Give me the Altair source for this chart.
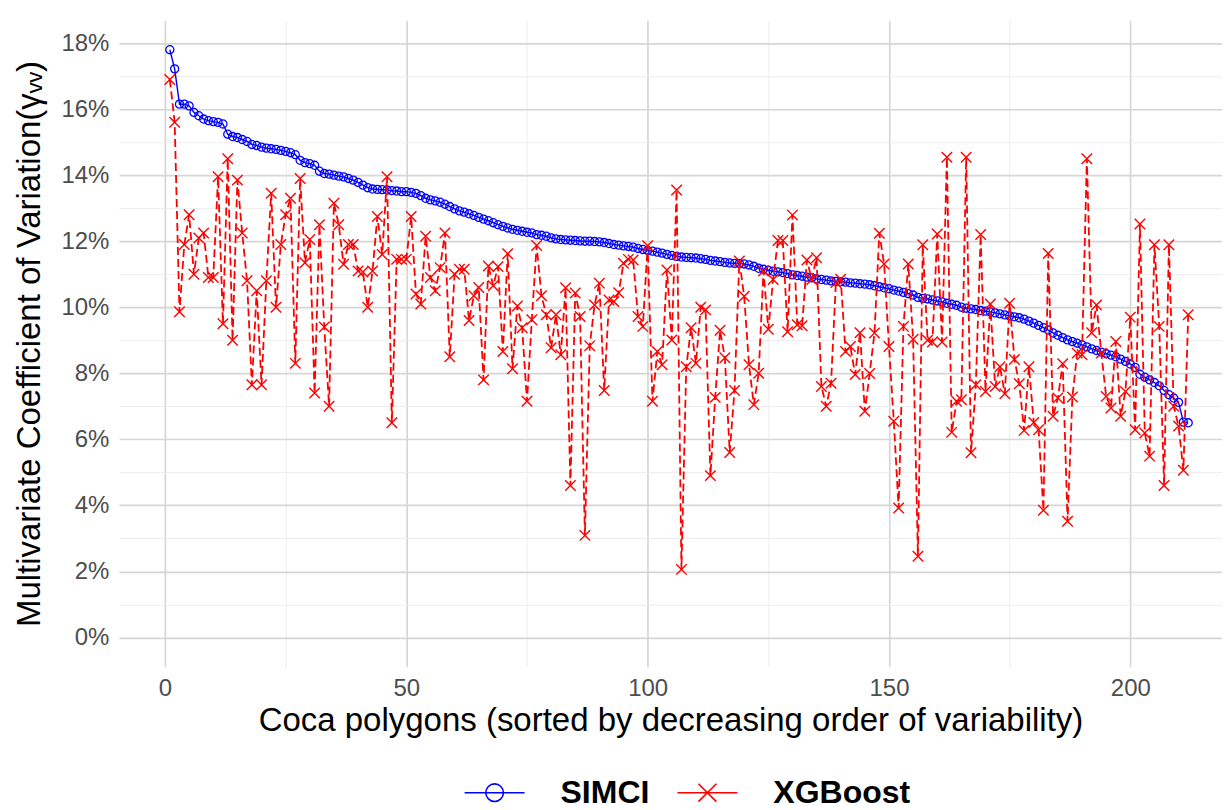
import altair as alt
import pandas as pd

idx = list(range(1, 213))

simci = [
    17.8, 17.22, 16.15, 16.15, 16.1, 15.9, 15.8, 15.7, 15.65, 15.62,
    15.6, 15.55, 15.24, 15.17, 15.14, 15.08, 15.02, 14.93, 14.9, 14.85,
    14.82, 14.8, 14.78, 14.75, 14.72, 14.68, 14.62, 14.45, 14.38, 14.35,
    14.3, 14.12, 14.05, 14.03, 14.0, 13.97, 13.95, 13.9, 13.85, 13.78,
    13.7, 13.62, 13.58, 13.57, 13.56, 13.55, 13.53, 13.52, 13.5, 13.5,
    13.48, 13.45, 13.38, 13.3, 13.25, 13.22, 13.18, 13.12, 13.05, 12.98,
    12.92, 12.88, 12.83, 12.78, 12.72, 12.67, 12.62, 12.56, 12.5, 12.45,
    12.4, 12.36, 12.33, 12.3, 12.27, 12.25, 12.2, 12.18, 12.15, 12.1,
    12.07, 12.05, 12.04, 12.03, 12.02, 12.01, 12.0, 12.0, 11.99, 11.98,
    11.96, 11.93, 11.9, 11.88, 11.86, 11.84, 11.82, 11.78, 11.75, 11.72,
    11.7, 11.67, 11.64, 11.6, 11.57, 11.54, 11.52, 11.51, 11.5, 11.49,
    11.47, 11.45, 11.42, 11.4, 11.38, 11.36, 11.34, 11.33, 11.33, 11.31,
    11.28, 11.24, 11.18, 11.15, 11.12, 11.09, 11.07, 11.05, 11.02, 10.98,
    10.96, 10.94, 10.91, 10.89, 10.86, 10.84, 10.82, 10.8, 10.78, 10.77,
    10.76, 10.74, 10.73, 10.71, 10.7, 10.68, 10.65, 10.62, 10.59, 10.56,
    10.52, 10.49, 10.45, 10.41, 10.37, 10.3, 10.27, 10.25, 10.22, 10.19,
    10.16, 10.12, 10.09, 10.06, 10.0, 9.97, 9.95, 9.93, 9.9, 9.88,
    9.86, 9.83, 9.8, 9.77, 9.74, 9.71, 9.68, 9.64, 9.58, 9.52,
    9.45, 9.38, 9.31, 9.22, 9.15, 9.08, 9.01, 8.96, 8.91, 8.86,
    8.8, 8.74, 8.69, 8.64, 8.59, 8.55, 8.5, 8.43, 8.36, 8.28,
    8.18, 7.97, 7.88, 7.8, 7.72, 7.62, 7.48, 7.35, 7.25, 7.12,
    6.52, 6.5,
]

xgboost = [
    16.9, 15.6, 9.86, 11.9, 12.8, 11.0, 12.1, 12.25, 10.9, 10.9,
    13.95, 9.5, 14.5, 9.0, 13.85, 12.25, 10.8, 7.65, 10.5, 7.65,
    10.8, 13.45, 10.0, 11.9, 12.8, 13.3, 8.3, 13.9, 11.35, 12.05,
    7.4, 12.5, 9.4, 7.0, 13.15, 12.5, 11.3, 11.9, 11.9, 11.1,
    11.07, 10.0, 11.1, 12.75, 11.6, 13.95, 6.5, 11.45, 11.45, 11.45,
    12.75, 10.4, 10.1, 12.15, 10.9, 10.5, 11.2, 12.25, 8.5, 11.0,
    11.15, 11.15, 9.6, 10.35, 10.6, 7.8, 11.25, 10.65, 11.23, 8.66,
    11.62, 8.14, 10.04, 9.38, 7.15, 9.62, 11.87, 10.35, 9.77, 8.77,
    9.77, 8.56, 10.59, 4.6, 10.43, 9.72, 3.09, 8.83, 10.07, 10.73,
    7.48, 10.22, 10.17, 10.44, 11.33, 11.45, 11.43, 9.72, 9.42, 11.86,
    7.15, 8.66, 8.26, 11.13, 9.01, 13.55, 2.06, 8.2, 9.38, 8.3,
    10.0, 9.92, 4.9, 7.27, 9.3, 8.47, 5.6, 7.48, 11.4, 10.33,
    8.26, 7.05, 8.0, 11.1, 9.33, 10.84, 12.02, 12.02, 9.26, 12.79,
    9.47, 9.44, 11.43, 10.84, 11.5, 7.6, 7.0, 7.7, 10.75, 10.85,
    8.66, 8.81, 7.96, 9.23, 6.85, 7.99, 9.22, 12.24, 11.31, 8.81,
    6.55, 3.92, 9.42, 11.31, 9.03, 2.46, 11.89, 9.0, 8.95, 12.22,
    8.95, 14.54, 6.21, 7.15, 7.2, 14.54, 5.59, 7.65, 12.2, 7.45,
    10.1, 7.6, 8.2, 7.38, 10.12, 8.42, 7.68, 6.27, 8.2, 6.51,
    6.29, 3.85, 11.63, 6.7, 7.25, 8.29, 3.52, 7.28, 8.61, 8.56,
    14.5, 9.23, 10.07, 8.61, 7.3, 6.95, 8.96, 6.7, 7.45, 9.7,
    6.29, 12.52, 6.19, 5.49, 11.89, 9.42, 4.6, 11.89, 7.0, 6.4,
    5.06, 9.77,
]

series_names = ["SIMCI", "XGBoost"]
series_colors = ["#0000ff", "#ff0000"]
x_ticks = [0, 25, 50, 75, 100, 125, 150, 175, 200]
y_ticks = list(range(0, 19))

df = pd.DataFrame({
    "idx": idx + idx,
    "value": simci + xgboost,
    "series": ["SIMCI"] * len(simci) + ["XGBoost"] * len(xgboost),
})

FONT = "Liberation Sans"

grid_color_x = {"condition": {"test": "datum.value % 50 === 0", "value": "#d6d6d6"}, "value": "#ebebeb"}
grid_width_x = {"condition": {"test": "datum.value % 50 === 0", "value": 1.7}, "value": 0.9}
grid_color_y = {"condition": {"test": "datum.value % 2 === 0", "value": "#d6d6d6"}, "value": "#ebebeb"}
grid_width_y = {"condition": {"test": "datum.value % 2 === 0", "value": 1.7}, "value": 0.9}

x_enc = alt.X(
    "idx:Q",
    scale=alt.Scale(domain=[-9.55, 219.0], nice=False, zero=False),
    axis=alt.Axis(
        title="Coca polygons (sorted by decreasing order of variability)",
        values=x_ticks,
        labelExpr="datum.value % 50 === 0 ? datum.label : ''",
        grid=True, gridColor=grid_color_x, gridWidth=grid_width_x,
        domain=False, ticks=False,
        labelFont=FONT, labelFontSize=24, labelColor="#4d4d4d", labelPadding=10,
        titleFont=FONT, titleFontSize=33, titleFontWeight="normal", titleColor="black",
        titlePadding=4,
    ),
)
y_enc = alt.Y(
    "value:Q",
    scale=alt.Scale(domain=[-0.89, 18.69], nice=False, zero=False),
    axis=alt.Axis(
        title="Multivariate Coefficient of Variation(γᵥᵥ)",
        values=y_ticks,
        labelExpr="datum.value % 2 === 0 ? datum.value + '%' : ''",
        grid=True, gridColor=grid_color_y, gridWidth=grid_width_y,
        domain=False, ticks=False,
        labelFont=FONT, labelFontSize=24, labelColor="#4d4d4d", labelPadding=10,
        titleFont=FONT, titleFontSize=33, titleFontWeight="normal", titleColor="black",
        titlePadding=14,
    ),
)

base = alt.Chart(df).encode(x=x_enc, y=y_enc)

simci_line = base.transform_filter("datum.series === 'SIMCI'").mark_line(
    color=series_colors[0], strokeWidth=1.4)
simci_pts = base.transform_filter("datum.series === 'SIMCI'").mark_point(
    shape="circle", size=65, color=series_colors[0], strokeWidth=1.3, filled=False, opacity=1)
xgb_line = base.transform_filter("datum.series === 'XGBoost'").mark_line(
    color=series_colors[1], strokeWidth=1.8, strokeDash=[8, 4])
xgb_pts = base.transform_filter("datum.series === 'XGBoost'").mark_point(
    shape="M-1,-1L1,1M-1,1L1,-1", size=110, color=series_colors[1], strokeWidth=1.4,
    filled=False, opacity=1)

legend_shapes = [
    "M-3,0L3,0M0.88,0A0.88,0.88,0,1,1,-0.88,0A0.88,0.88,0,1,1,0.88,0",
    "M-3,0L3,0M-0.9,-0.9L0.9,0.9M-0.9,0.9L0.9,-0.9",
]
leg = alt.Legend(
    title=None, orient="none", direction="horizontal", legendX=360, legendY=757,
    labelFont=FONT, labelFontSize=32, labelFontWeight="bold", labelColor="black",
    symbolSize=400, symbolStrokeWidth=1.6, labelOffset=50, columnPadding=24,
    padding=0,
)
legend_layer = base.transform_filter("false").mark_point(
    filled=False, size=400, strokeWidth=1.6, opacity=1
).encode(
    color=alt.Color("series:N", scale=alt.Scale(domain=series_names, range=series_colors), legend=leg),
    shape=alt.Shape("series:N", scale=alt.Scale(domain=series_names, range=legend_shapes), legend=leg),
)

chart = alt.layer(simci_line, simci_pts, xgb_line, xgb_pts, legend_layer).properties(
    width=1104, height=647,
    padding={"left": 5, "right": 0, "top": 12, "bottom": 0},
    background="white",
).configure_view(stroke=None)

chart.save("out.html", embed_options={"renderer": "svg", "actions": False})
